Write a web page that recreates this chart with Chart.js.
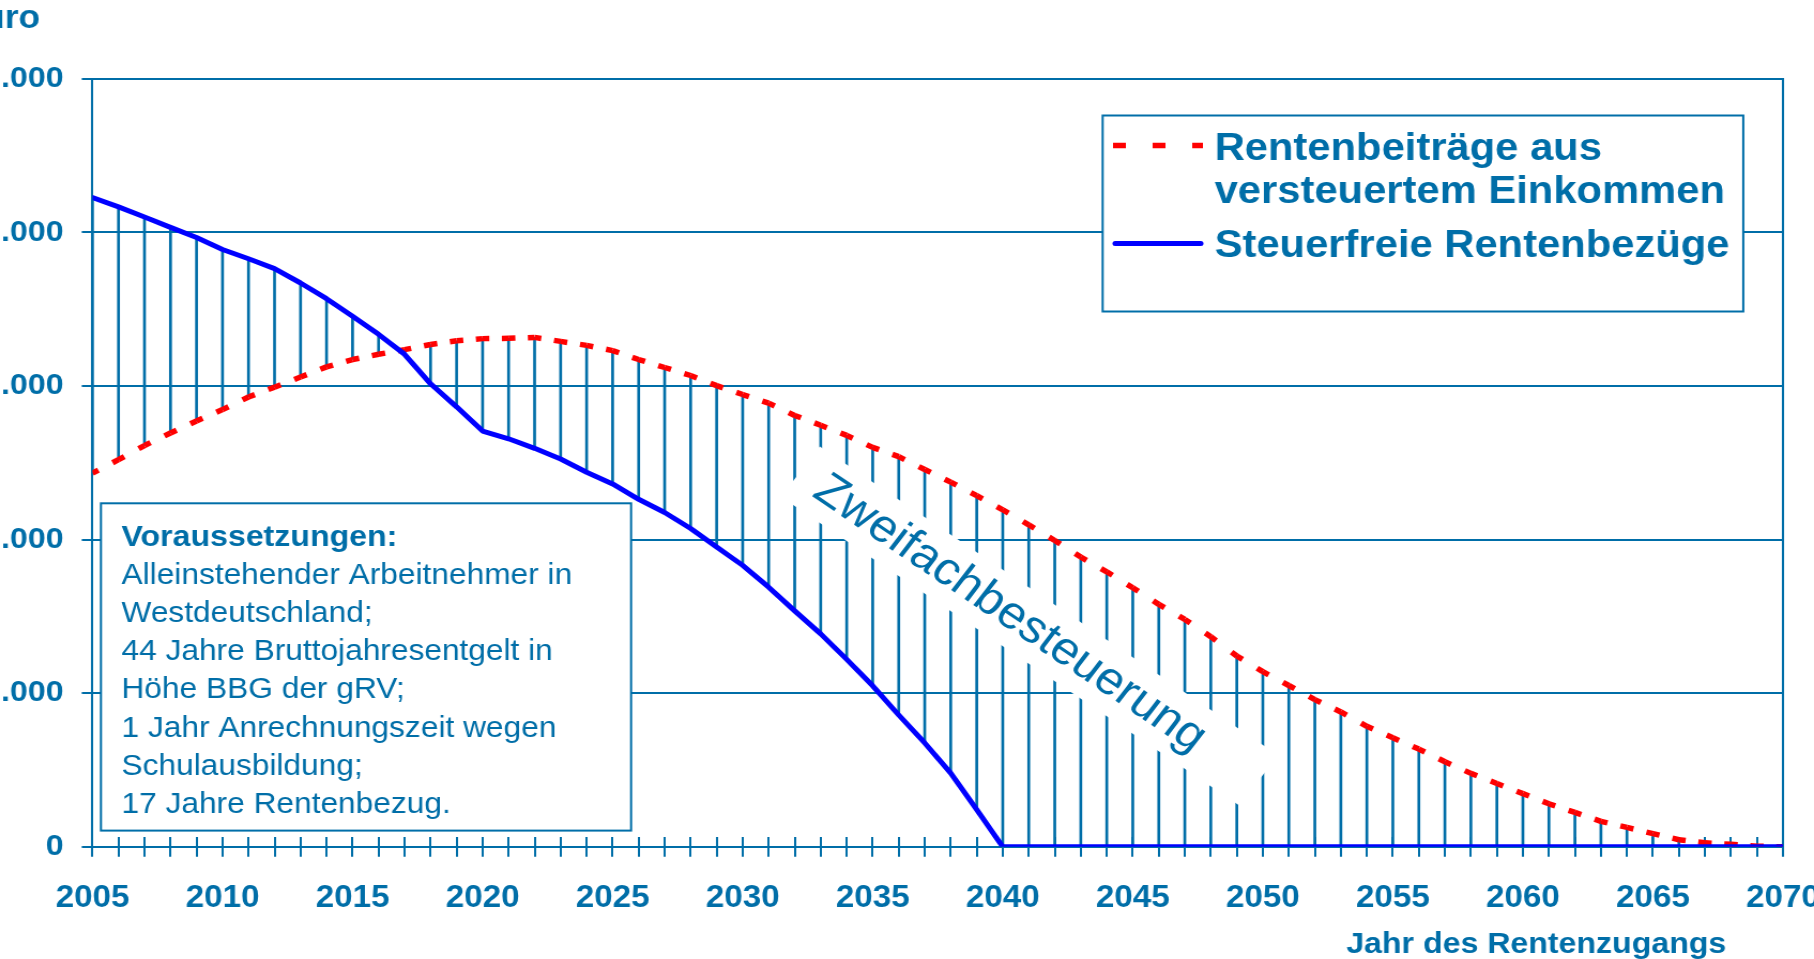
<!DOCTYPE html>
<html lang="de">
<head>
<meta charset="utf-8">
<title>Zweifachbesteuerung</title>
<script src="https://cdn.jsdelivr.net/npm/chart.js@4.4.1/dist/chart.umd.min.js"></script>
<style>
  html, body { margin: 0; padding: 0; background: #ffffff; overflow: hidden; }
  #wrap { position: relative; width: 1814px; height: 959px; overflow: hidden; }
  #chart { display: block; }
</style>
</head>
<body>
<!-- the drawing surface is slightly narrower and stretched to the page width -->
<div id="wrap"><canvas id="chart" width="1695" height="959" style="width:1814px;height:959px"></canvas></div>
<script>
// Jahr des Rentenzugangs
const years = [
  2005, 2006, 2007, 2008, 2009, 2010, 2011, 2012, 2013, 2014,
  2015, 2016, 2017, 2018, 2019, 2020, 2021, 2022, 2023, 2024,
  2025, 2026, 2027, 2028, 2029, 2030, 2031, 2032, 2033, 2034,
  2035, 2036, 2037, 2038, 2039, 2040, 2041, 2042, 2043, 2044,
  2045, 2046, 2047, 2048, 2049, 2050, 2051, 2052, 2053, 2054,
  2055, 2056, 2057, 2058, 2059, 2060, 2061, 2062, 2063, 2064,
  2065, 2066, 2067, 2068, 2069, 2070
];

// Steuerfreie Rentenbezüge (Euro)
const steuerfreieRentenbezuege = [
  211300, 208300, 205000, 201600, 198300, 194400, 191400, 188200, 183500, 178400,
  172700, 166800, 160300, 150700, 143200, 135300, 132800, 129700, 126200, 121900,
  118100, 113100, 108800, 103600, 97600, 91600, 84500, 76800, 69300, 61000,
  52400, 42900, 33800, 24000, 12100, 0, 0, 0, 0, 0,
  0, 0, 0, 0, 0, 0, 0, 0, 0, 0,
  0, 0, 0, 0, 0, 0, 0, 0, 0, 0,
  0, 0, 0, 0, 0, 0
];

// Rentenbeiträge aus versteuertem Einkommen (Euro)
const rentenbeitraegeVersteuert = [
  121600, 126000, 130600, 134700, 138600, 142300, 146400, 149600, 152900, 156200,
  158600, 160300, 161800, 163500, 164700, 165400, 165500, 165800, 164500, 163200,
  161500, 158600, 156000, 153400, 150100, 147200, 144400, 140400, 137200, 133900,
  130000, 127000, 122800, 118700, 114300, 109700, 104800, 99700, 94300, 89500,
  84300, 78900, 74000, 68400, 62100, 57000, 52500, 47900, 43900, 39200,
  35500, 31800, 27700, 23900, 20600, 17300, 14000, 11200, 8300, 6300,
  4300, 2300, 1300, 800, 200, 0
];

// y axis: 0 … 250.000 Euro
const yMin = 0;
const yMax = 250000;
const yStep = 50000;

const seriesNames = ['Rentenbeiträge aus versteuertem Einkommen', 'Steuerfreie Rentenbezüge'];
const legendLines = [['Rentenbeiträge aus', 'versteuertem Einkommen'], ['Steuerfreie Rentenbezüge']];
const noteTitle = 'Voraussetzungen:';
const noteLines = [
  'Alleinstehender Arbeitnehmer in',
  'Westdeutschland;',
  '44 Jahre Bruttojahresentgelt in',
  'Höhe BBG der gRV;',
  '1 Jahr Anrechnungszeit wegen',
  'Schulausbildung;',
  '17 Jahre Rentenbezug.'
];
const areaLabel = 'Zweifachbesteuerung';
const yAxisTitle = 'Euro';
const xAxisTitle = 'Jahr des Rentenzugangs';

const INK = '#006ea8';
const RED = '#ff0000';
const BLUE = '#0000ff';
const FONT = '"Liberation Sans", Arial, Helvetica, sans-serif';

const fmtThousands = v => String(v).replace(/\B(?=(\d{3})+(?!\d))/g, '.');

// vertical hatching between the two curves, one stroke per year
const hatch = years.map((y, i) => {
  const a = rentenbeitraegeVersteuert[i];
  const b = steuerfreieRentenbezuege[i];
  return { x: y, y: [Math.min(a, b), Math.max(a, b)] };
});
const redPoints = years.map((y, i) => ({ x: y, y: rentenbeitraegeVersteuert[i] }));
const bluePoints = years.map((y, i) => ({ x: y, y: steuerfreieRentenbezuege[i] }));

// one short dash centred on every yearly point of the red curve
const HALF_DASH = 6.3;
const dashPerYear = seg => {
  const len = Math.hypot(seg.p1.x - seg.p0.x, seg.p1.y - seg.p0.y);
  return [HALF_DASH, Math.max(len - 2 * HALF_DASH, 0), HALF_DASH, 0];
};

function drawTextLines(ctx, lines, x, baselines, font) {
  ctx.font = font;
  lines.forEach((t, i) => ctx.fillText(t, x, baselines[i]));
}

const overlays = {
  id: 'overlays',
  afterDatasetDraw(chart, args) {
    if (args.index !== 0) return;
    // rotated caption over the hatched area, on a white plate
    const ctx = chart.ctx;
    ctx.save();
    ctx.translate(962, 626);
    ctx.rotate(35.8 * Math.PI / 180);
    ctx.fillStyle = '#ffffff';
    ctx.fillRect(-264, -31, 528, 62);
    ctx.fillStyle = INK;
    ctx.font = '46px ' + FONT;
    ctx.textAlign = 'center';
    ctx.textBaseline = 'middle';
    ctx.fillText(areaLabel, -22, 1);
    ctx.restore();
  },
  afterDatasetsDraw(chart) {
    const ctx = chart.ctx;
    ctx.save();
    ctx.textAlign = 'left';
    ctx.textBaseline = 'alphabetic';

    // note box
    ctx.fillStyle = '#ffffff';
    ctx.fillRect(94.3, 503.3, 495.4, 327.3);
    ctx.strokeStyle = INK;
    ctx.lineWidth = 2;
    ctx.strokeRect(94.3, 503.3, 495.4, 327.3);
    ctx.fillStyle = INK;
    ctx.font = 'bold 30px ' + FONT;
    ctx.fillText(noteTitle, 113.5, 545.7);
    drawTextLines(ctx, noteLines, 113.5, [584, 621.7, 660, 698.3, 736.7, 775, 813.3], '29.6px ' + FONT);

    // legend box
    ctx.fillStyle = '#ffffff';
    ctx.fillRect(1030.3, 115.5, 598.6, 196);
    ctx.strokeStyle = INK;
    ctx.lineWidth = 2;
    ctx.strokeRect(1030.3, 115.5, 598.6, 196);

    ctx.beginPath();
    ctx.setLineDash([12, 25]);
    ctx.lineCap = 'butt';
    ctx.strokeStyle = RED;
    ctx.lineWidth = 5.5;
    ctx.moveTo(1040, 145.5);
    ctx.lineTo(1124, 145.5);
    ctx.stroke();
    ctx.setLineDash([]);

    ctx.beginPath();
    ctx.lineCap = 'round';
    ctx.strokeStyle = BLUE;
    ctx.lineWidth = 5;
    ctx.moveTo(1042, 243.5);
    ctx.lineTo(1122, 243.5);
    ctx.stroke();

    ctx.fillStyle = INK;
    drawTextLines(ctx, legendLines[0], 1134.9, [160, 203.3], 'bold 39px ' + FONT);
    drawTextLines(ctx, legendLines[1], 1134.9, [256.7], 'bold 39px ' + FONT);

    // axis titles
    ctx.textAlign = 'right';
    ctx.font = 'bold 33px ' + FONT;
    ctx.fillText(yAxisTitle, 37.5, 28);
    ctx.font = 'bold 30px ' + FONT;
    ctx.fillText(xAxisTitle, 1613, 953);
    ctx.restore();
  }
};

new Chart(document.getElementById('chart'), {
  type: 'line',
  data: {
    datasets: [
      {
        type: 'bar',
        label: 'Differenz',
        data: hatch,
        backgroundColor: INK,
        borderWidth: 0,
        barThickness: 2,
        order: 2
      },
      {
        type: 'line',
        label: seriesNames[0],
        data: redPoints,
        borderColor: RED,
        borderWidth: 5.5,
        borderCapStyle: 'butt',
        pointRadius: 0,
        tension: 0,
        segment: { borderDash: dashPerYear },
        order: 1
      },
      {
        type: 'line',
        label: seriesNames[1],
        data: bluePoints,
        borderColor: BLUE,
        borderWidth: 5,
        borderCapStyle: 'round',
        borderJoinStyle: 'round',
        pointRadius: 0,
        tension: 0,
        order: 0
      }
    ]
  },
  options: {
    responsive: false,
    devicePixelRatio: 1,
    animation: false,
    events: [],
    layout: { padding: { left: 0, right: 29, top: 78.7, bottom: 0 } },
    plugins: { legend: { display: false }, tooltip: { enabled: false }, title: { display: false } },
    scales: {
      x: {
        type: 'linear',
        position: 'bottom',
        min: years[0],
        max: years[years.length - 1],
        offset: false,
        grid: { offset: false, drawOnChartArea: false, drawTicks: true, tickLength: 10, color: INK, lineWidth: 2 },
        border: { display: true, color: INK, width: 2 },
        ticks: {
          stepSize: 1,
          maxTicksLimit: 200,
          autoSkip: false,
          maxRotation: 0,
          minRotation: 0,
          padding: 23,
          color: INK,
          font: { family: FONT, size: 31, weight: 'bold' },
          callback: v => (v % 5 === 0 ? String(v) : '')
        },
        afterFit: s => { s.height = 112.2; s.paddingLeft = 0; s.paddingRight = 0; }
      },
      xTicksUp: {
        type: 'linear',
        axis: 'x',
        position: { y: 0 },
        min: years[0],
        max: years[years.length - 1],
        offset: false,
        grid: { offset: false, drawOnChartArea: false, drawTicks: true, tickLength: -10, color: INK, lineWidth: 2 },
        border: { display: false },
        ticks: { stepSize: 1, maxTicksLimit: 200, autoSkip: false, display: false }
      },
      y: {
        type: 'linear',
        position: 'left',
        min: yMin,
        max: yMax,
        grid: { color: INK, lineWidth: 2, tickLength: 10, drawTicks: true },
        border: { display: true, color: INK, width: 2 },
        ticks: {
          stepSize: yStep,
          padding: 17,
          color: INK,
          font: { family: FONT, size: 30, weight: 'bold' },
          callback: v => fmtThousands(v)
        },
        afterFit: s => { s.width = 86.4; s.paddingTop = 0; s.paddingBottom = 0; }
      },
      yRight: {
        type: 'linear',
        axis: 'y',
        position: 'right',
        grid: { drawOnChartArea: false, drawTicks: false },
        border: { display: true, color: INK, width: 2 },
        ticks: { display: false },
        afterFit: s => { s.width = 0; }
      }
    }
  },
  plugins: [overlays]
});
</script>
</body>
</html>
